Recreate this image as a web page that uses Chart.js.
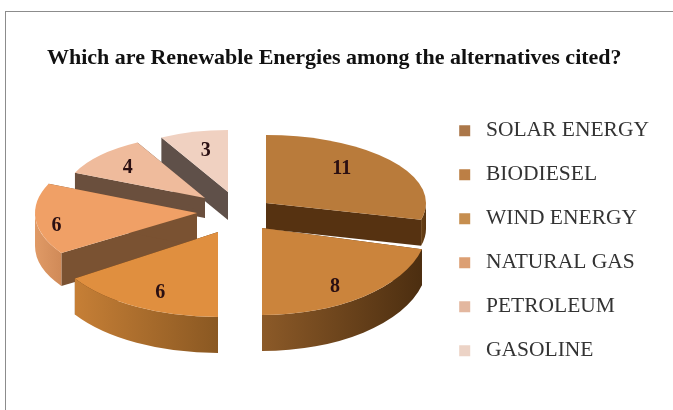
<!DOCTYPE html>
<html>
<head>
<meta charset="utf-8">
<style>
    html, body { margin: 0; padding: 0; background: #fff; overflow: hidden; }
    #frame { position: absolute; left: 5px; top: 11px; width: 668px; height: 399px;
             border-top: 1px solid #8c8c8c; border-left: 1px solid #8c8c8c; box-sizing: border-box; }
    #chart { position: absolute; left: 0; top: 0; }
</style>
<script src="https://cdn.jsdelivr.net/npm/chart.js@4/dist/chart.umd.min.js"></script>
</head>
<body>
<div id="frame"></div>
<canvas id="chart" width="673" height="410"></canvas>
<script>
// ------------------------
// DATA
// ------------------------

const categories = ["SOLAR ENERGY", "BIODIESEL", "WIND ENERGY", "NATURAL GAS", "PETROLEUM", "GASOLINE"];
const answers = [11, 8, 6, 6, 4, 3];

// ------------------------
// LOOK OF THE SLICES
// ------------------------

const topColors = ["#b97b3b", "#cb843c", "#e08f3f", "#f0a066", "#efbb9c", "#f0d1c1"];
const legendColors = ["#ab7749", "#bc7f45", "#c68e4f", "#dc9f73", "#e3b79f", "#ecd3c6"];
const wallColors = ["#563211", "#563211", "#563211", "#7a5232", "#6a4f3d", "#5f5049"];
const rimLeft = ["#6a4216", "#8c5a28", "#c67f36", "#e09a66", "#d9a888", "#d8b8a8"];
const rimRight = ["#5a3612", "#4c2e10", "#8a5822", "#d08a58", "#d9a888", "#d8b8a8"];

// fake perspective: every slice gets its own tip, radii and thickness
const tips = [[266, 203], [262, 228], [218, 232], [197, 213], [205, 198], [228, 192]];
const radii = [[160, 68], [165, 87], [171, 85], [162, 73], [142, 63], [140, 62]];
const depths = [26, 36, 36, 33, 20, 28];
const labelFractions = [[.6, .86], [.72, .83], [.71, .79], [.87, 1.75], [.74, .745], [.65, .715]];
const drawOrder = [5, 4, 0, 3, 2, 1];

// ------------------------
// 3D PIE PLUGIN
// ------------------------

function drawSlice(ctx, arc, i) {
    const { startAngle, endAngle } = arc.getProps(["startAngle", "endAngle"], true);
    const [tx, ty] = tips[i];
    const [rx, ry] = radii[i];
    const d = depths[i];

    const wall = angle => {
        const px = tx + Math.cos(angle) * rx;
        const py = ty + Math.sin(angle) * ry;
        ctx.beginPath();
        ctx.moveTo(tx, ty);
        ctx.lineTo(px, py);
        ctx.lineTo(px, py + d);
        ctx.lineTo(tx, ty + d);
        ctx.closePath();
        ctx.fillStyle = wallColors[i];
        ctx.fill();
    };
    wall(startAngle);
    wall(endAngle);

    // outer rim, only the part of the ellipse that faces us
    const full = Math.PI * 2;
    for (const shift of [0, full, -full]) {
        const from = Math.max(startAngle + shift, 0);
        const to = Math.min(endAngle + shift, Math.PI);
        if (to <= from) continue;
        const grad = ctx.createLinearGradient(tx + Math.cos(to) * rx, 0, tx + Math.cos(from) * rx, 0);
        grad.addColorStop(0, rimLeft[i]);
        grad.addColorStop(1, rimRight[i]);
        ctx.beginPath();
        ctx.ellipse(tx, ty, rx, ry, 0, from, to);
        ctx.ellipse(tx, ty + d, rx, ry, 0, to, from, true);
        ctx.closePath();
        ctx.fillStyle = grad;
        ctx.fill();
    }

    // top face
    ctx.beginPath();
    ctx.moveTo(tx, ty);
    ctx.ellipse(tx, ty, rx, ry, 0, startAngle, endAngle);
    ctx.closePath();
    ctx.fillStyle = arc.options.backgroundColor;
    ctx.fill();
}

const pie3d = {
    id: "pie3d",
    beforeDatasetsDraw(chart) {
        const ctx = chart.ctx;
        const arcs = chart.getDatasetMeta(0).data;

        ctx.save();
        drawOrder.forEach(i => drawSlice(ctx, arcs[i], i));

        ctx.font = "bold 20px 'Liberation Serif'";
        ctx.textAlign = "center";
        ctx.textBaseline = "middle";
        ctx.fillStyle = "#2a0f12";
        arcs.forEach((arc, i) => {
            const { startAngle, endAngle } = arc.getProps(["startAngle", "endAngle"], true);
            const mid = (startAngle + endAngle) / 2;
            const x = tips[i][0] + Math.cos(mid) * radii[i][0] * labelFractions[i][0];
            const y = tips[i][1] + Math.sin(mid) * radii[i][1] * labelFractions[i][1];
            ctx.fillText(String(answers[i]), x, y + 2);
        });
        ctx.restore();

        return false;
    }
};

// ------------------------
// CHART
// ------------------------

new Chart(document.getElementById("chart").getContext("2d"), {
    type: "pie",
    data: {
        labels: categories,
        datasets: [{
            data: answers,
            backgroundColor: topColors,
            borderWidth: 0
        }]
    },
    options: {
        responsive: false,
        animation: false,
        layout: { padding: { left: 47, right: 14, top: 45, bottom: 0 } },
        plugins: {
            tooltip: { enabled: false },
            title: {
                display: true,
                align: "start",
                text: "Which are Renewable Energies among the alternatives cited?",
                color: "#111",
                font: { family: "'Liberation Serif'", size: 22, weight: "bold" },
                padding: { top: 0, bottom: 0 }
            },
            legend: {
                position: "right",
                fullSize: false,
                labels: {
                    usePointStyle: true,
                    boxWidth: 21,
                    boxHeight: 11,
                    padding: 22.5,
                    color: "#333",
                    font: { family: "'Liberation Serif'", size: 21.5 },
                    generateLabels: chart => chart.data.labels.map((text, i) => ({
                        text,
                        fillStyle: legendColors[i],
                        strokeStyle: legendColors[i],
                        lineWidth: 0,
                        pointStyle: "rect",
                        fontColor: "#333",
                        index: i
                    }))
                }
            }
        }
    },
    plugins: [pie3d]
});
</script>
</body>
</html>
